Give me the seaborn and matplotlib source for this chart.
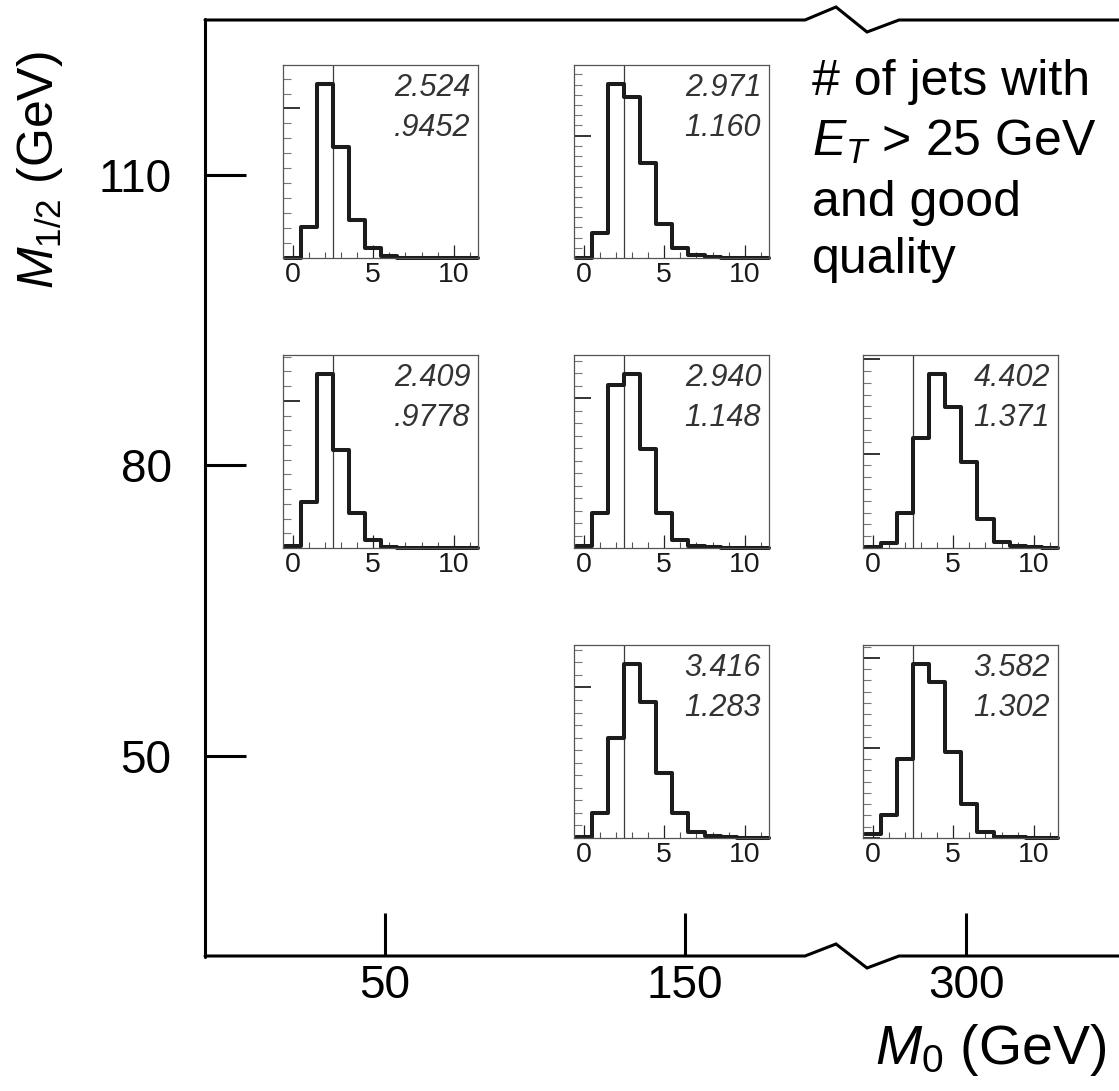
import numpy as np
import pandas as pd
import matplotlib
matplotlib.use("Agg")
import matplotlib.pyplot as plt
from matplotlib.ticker import MultipleLocator, FixedLocator, NullFormatter
from matplotlib.transforms import Affine2D
import seaborn as sns

# ---------------- data ----------------
m0_ticks = [50, 150, 300]            # GeV
m12_ticks = [50, 80, 110]            # GeV
n_jets = list(range(12))             # bin centres 0..11

panel_m0 = [50, 150, 50, 150, 300, 150, 300]
panel_m12 = [110, 110, 80, 80, 80, 50, 50]
panel_mean = ["2.524", "2.971", "2.409", "2.940", "4.402", "3.416", "3.582"]
panel_rms = [".9452", "1.160", ".9778", "1.148", "1.371", "1.283", "1.302"]

# fraction of events (%) per number of jets
h_50_110 = [0.0, 8.5, 47.6, 30.4, 10.4, 2.6, 0.5, 0.1, 0.0, 0.0, 0.0, 0.0]
h_150_110 = [0.0, 4.9, 34.8, 32.1, 18.9, 6.8, 1.9, 0.5, 0.1, 0.0, 0.0, 0.0]
h_50_80 = [0.6, 12.7, 47.8, 26.9, 9.6, 2.1, 0.3, 0.1, 0.0, 0.0, 0.0, 0.0]
h_150_80 = [0.3, 6.8, 31.5, 33.6, 19.1, 6.8, 1.5, 0.3, 0.1, 0.0, 0.0, 0.0]
h_300_80 = [0.2, 0.8, 6.0, 18.7, 29.5, 23.9, 14.6, 5.0, 1.0, 0.3, 0.1, 0.0]
h_150_50 = [0.2, 4.6, 18.8, 32.6, 25.5, 12.2, 4.6, 1.1, 0.3, 0.1, 0.0, 0.0]
h_300_50 = [0.7, 4.0, 14.1, 30.9, 27.7, 15.3, 6.0, 1.1, 0.2, 0.1, 0.0, 0.0]
panel_hists = [h_50_110, h_150_110, h_50_80, h_150_80, h_300_80, h_150_50, h_300_50]

# y-axis tick spacing of each inset (%), and major tick every N minor ticks
panel_minor_step = [4.09, 2.04, 4.04, 2.41, 2.0, 2.35, 2.0]
panel_major_every = [10, 12, 10, 12, 8, 12, 8]

cut_value = 2.5

# ---------------- style ----------------
sns.set_theme(style="white")
plt.rcParams['font.family'] = ['Liberation Sans', 'DejaVu Sans']
plt.rcParams['mathtext.fontset'] = 'custom'
plt.rcParams['mathtext.rm'] = 'Liberation Sans'
plt.rcParams['mathtext.it'] = 'Liberation Sans:italic'
plt.rcParams['mathtext.bf'] = 'Liberation Sans:bold'

W, H = 1119, 1091
fig = plt.figure(figsize=(W / 100, H / 100), dpi=100)
fig.patch.set_facecolor('white')


def px_box(left, top, right, bottom):
    return [left / W, 1 - bottom / H, (right - left) / W, (bottom - top) / H]


pxT = Affine2D().scale(1 / W, -1 / H).translate(0, 1) + fig.transFigure

# ---------------- outer (parameter-space) axes ----------------
frame_l, frame_t, frame_r, frame_b = 205, 20, 1119, 956
ax = fig.add_axes(px_box(frame_l, frame_t, frame_r, frame_b))
ax.set_facecolor('none')
break_shift = 56.33          # GeV removed by the axis break
ax.set_xlim(-10, -10 + (frame_r - frame_l) / 3.0)
ax.set_ylim(29.34, 126.0)
for s in ax.spines.values():
    s.set_visible(False)

xt = [v if v < 200 else v - break_shift for v in m0_ticks]
ax.set_xticks(xt, labels=[str(v) for v in m0_ticks])
ax.set_yticks(m12_ticks, labels=[str(v) for v in m12_ticks])
ax.tick_params(axis='x', direction='in', length=31, width=2.2, color='black',
               labelsize=33, pad=6, bottom=True, top=False, labelcolor='black')
ax.tick_params(axis='y', direction='in', length=29.5, width=2.2, color='black',
               labelsize=33, pad=24, left=True, right=False, labelcolor='black')

# frame with axis break (layout, in pixels)
lw_frame = 2.2
zig_x = [frame_l, 805, 836, 867, 899, frame_r]
ax.plot(zig_x, [956, 956, 944, 968, 956, 956], color='black', lw=lw_frame,
        transform=pxT, clip_on=False, solid_joinstyle='miter')
ax.plot(zig_x, [20, 20, 7, 32, 20, 20], color='black', lw=lw_frame,
        transform=pxT, clip_on=False, solid_joinstyle='miter')
ax.plot([frame_l, frame_l], [18.9, 957.1], color='black', lw=lw_frame,
        transform=pxT, clip_on=False)

# axis titles
fig.text(40 / W, 1 - 170 / H, r"$M_{1/2}$ (GeV)", rotation=90, fontsize=36,
         ha='center', va='center', color='black')
fig.text(1106 / W, 1 - 1064 / H, r"$M_0$ (GeV)", fontsize=40,
         ha='right', va='baseline', color='black')

# annotation
note_lines = ["# of jets with", r"$E_T$ > 25 GeV", "and good", "quality"]
note_baselines = [95, 156, 216, 273]
for line, yb in zip(note_lines, note_baselines):
    fig.text(812 / W, 1 - yb / H, line, fontsize=36, ha='left', va='baseline',
             color='black')

# ---------------- inset histograms ----------------
col_left = {50: 283, 150: 574, 300: 863}
row_top = {110: 65, 80: 355, 50: 645}
inset_w, inset_h = 195, 193

for m0, m12, mean, rms, hist, step, every in zip(
        panel_m0, panel_m12, panel_mean, panel_rms, panel_hists,
        panel_minor_step, panel_major_every):
    l, t = col_left[m0], row_top[m12]
    axi = fig.add_axes(px_box(l, t, l + inset_w, t + inset_h))
    axi.set_facecolor('white')
    df = pd.DataFrame({"njet": n_jets, "frac": hist})
    sns.histplot(data=df, x="njet", weights="frac", discrete=True,
                 element="step", fill=False, color='#1c1c1c', linewidth=2.9,
                 ax=axi, clip_on=False)
    axi.axvline(cut_value, color='#3a3a3a', lw=0.9, zorder=1)
    axi.set_xlim(-0.6, 11.5)
    axi.set_ylim(0, max(hist) * 1.109)
    axi.set_xlabel('')
    axi.set_ylabel('')
    for s in axi.spines.values():
        s.set_color('#555555')
        s.set_linewidth(0.9)
    axi.xaxis.set_major_locator(FixedLocator([0, 5, 10]))
    axi.xaxis.set_minor_locator(FixedLocator(n_jets))
    axi.yaxis.set_major_locator(MultipleLocator(step * every))
    axi.yaxis.set_minor_locator(MultipleLocator(step))
    axi.yaxis.set_major_formatter(NullFormatter())
    axi.tick_params(axis='x', which='major', direction='in', length=9.5,
                    width=0.9, color='#222222', labelsize=20.5, pad=3,
                    labelcolor='#1a1a1a', bottom=True)
    axi.tick_params(axis='x', which='minor', direction='in', length=4.5,
                    width=0.8, color='#555555', bottom=True)
    axi.tick_params(axis='y', which='major', direction='in', length=12,
                    width=1.2, color='#111111', left=True)
    axi.tick_params(axis='y', which='minor', direction='in', length=6,
                    width=0.8, color='#777777', left=True)
    axi.text(0.96, 0.88, mean, transform=axi.transAxes, ha='right',
             va='center', fontsize=22, style='italic', color='#333333')
    axi.text(0.96, 0.674, rms, transform=axi.transAxes, ha='right',
             va='center', fontsize=22, style='italic', color='#333333')

fig.savefig("out.png", dpi=100, facecolor='white')
